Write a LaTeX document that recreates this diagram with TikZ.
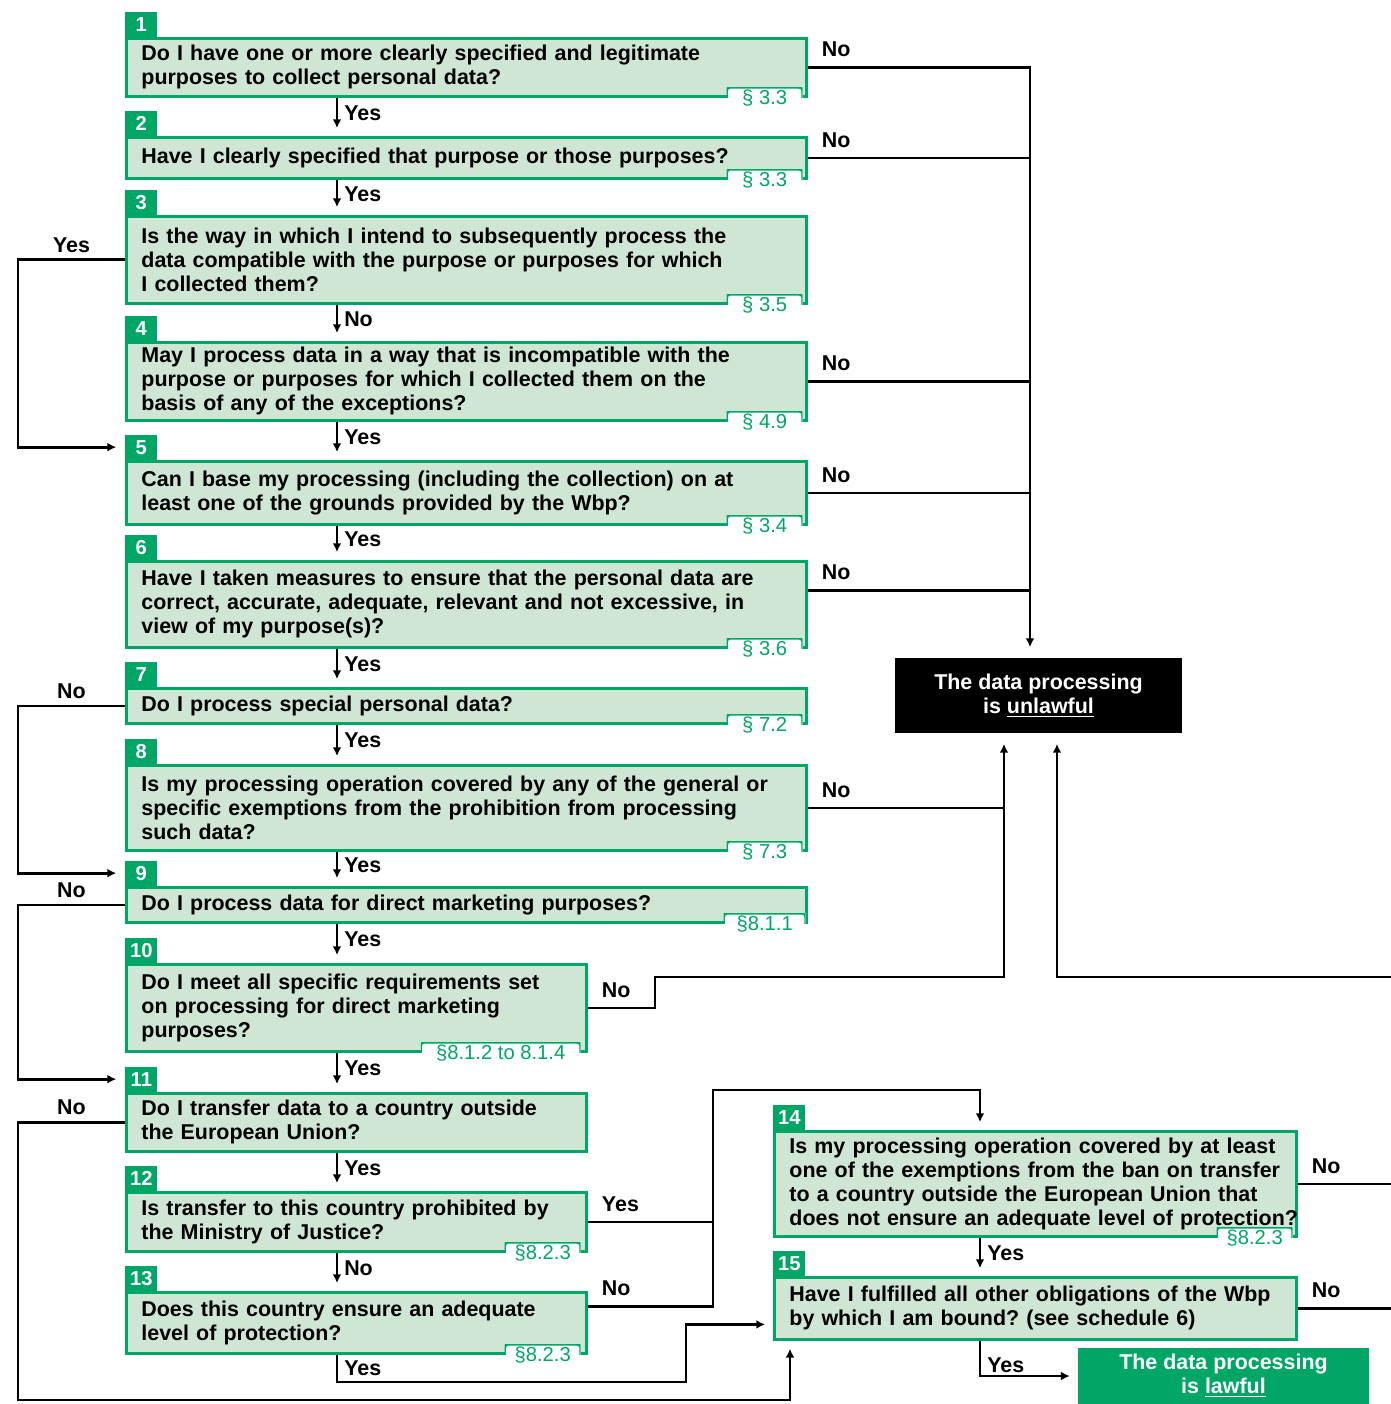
\documentclass[tikz,border=0pt]{standalone}
\usepackage{fontspec}
\setmainfont{Liberation Sans}
\usetikzlibrary{arrows.meta,positioning}

\definecolor{wbpgreen}{RGB}{0,166,101}
\definecolor{wbpfill}{RGB}{208,230,213}

\newcommand{\qfont}{\fontsize{12.2}{13.66}\selectfont\bfseries\frenchspacing}
\newcommand{\afont}{\fontsize{12.2}{13.66}\selectfont\bfseries}
\newcommand{\secfont}{\fontsize{11.5}{12}\selectfont}

\tikzset{
  question/.style={draw=wbpgreen, fill=wbpfill, line width=1.6pt, anchor=north west,
    align=left, inner xsep=0.3cm, inner ysep=0pt, text width=13cm, font=\qfont},
  numtab/.style={fill=wbpgreen, text=white, anchor=south west, inner sep=0pt,
    minimum width=0.64cm, minimum height=0.5cm, font=\fontsize{11.5}{12}\selectfont\bfseries},
  sectab/.style={fill=white, text=wbpgreen, inner sep=0pt, minimum width=1.52cm,
    minimum height=0.42cm, font=\secfont,
    path picture={\draw[wbpgreen, line width=1.4pt, rounded corners=2pt]
      (path picture bounding box.west) -- (path picture bounding box.north west)
      -- (path picture bounding box.north east) -- (path picture bounding box.east);}},
  verdict/.style={text=white, align=center, inner sep=0pt, font=\afont},
  flow/.style={draw=black, line width=1.6pt},
  flowto/.style={->, shorten >=4.5pt},
  outlbl/.style={anchor=south west, xshift=0.14cm, yshift=0.06cm},
}

\begin{document}
\begin{tikzpicture}[x=0.02cm, y=-0.02cm, >={Latex[length=5pt,width=5pt]}]
\useasboundingbox (0,0) rectangle (1391,1404);

% questions
\begin{scope}[every node/.style={question}]
  \node[minimum height=1.16cm] (q1) at (125,37) {Do I have one or more clearly specified and legitimate\\purposes to collect personal data?};
  \node[minimum height=0.82cm] (q2) at (125,136) {Have I clearly specified that purpose or those purposes?};
  \node[minimum height=1.74cm] (q3) at (125,215) {Is the way in which I intend to subsequently process the\\data compatible with the purpose or purposes for which\\I collected them?};
  \node[minimum height=1.56cm] (q4) at (125,341) {May I process data in a way that is incompatible with the\\purpose or purposes for which I collected them on the\\basis of any of the exceptions?};
  \node[minimum height=1.26cm] (q5) at (125,460) {Can I base my processing (including the collection) on at\\least one of the grounds provided by the Wbp?};
  \node[minimum height=1.72cm] (q6) at (125,560) {Have I taken measures to ensure that the personal data are\\correct, accurate, adequate, relevant and not excessive, in\\view of my purpose(s)?};
  \node[minimum height=0.70cm] (q7) at (125,687) {Do I process special personal data?};
  \node[minimum height=1.70cm] (q8) at (125,764) {Is my processing operation covered by any of the general or\\specific exemptions from the prohibition from processing\\such data?};
  \node[minimum height=0.70cm] (q9) at (125,886) {Do I process data for direct marketing purposes?};
  \node[minimum height=1.74cm, text width=8.6cm] (q10) at (125,963) {Do I meet all specific requirements set\\on processing for direct marketing\\purposes?};
  \node[minimum height=1.16cm, text width=8.6cm] (q11) at (125,1092) {Do I transfer data to a country outside\\the European Union?};
  \node[minimum height=1.18cm, text width=8.6cm] (q12) at (125,1191) {Is transfer to this country prohibited by\\the Ministry of Justice?};
  \node[minimum height=1.22cm, text width=8.6cm] (q13) at (125,1291) {Does this country ensure an adequate\\level of protection?};
  \node[minimum height=2.10cm, text width=9.84cm] (q14) at (773,1130) {Is my processing operation covered by at least\\\mbox{one of the exemptions from the ban on transfer}\\to a country outside the European Union that\\\mbox{does not ensure an adequate level of protection?}};
  \node[minimum height=1.24cm, text width=9.84cm] (q15) at (773,1276) {Have I fulfilled all other obligations of the Wbp\\by which I am bound? (see schedule 6)};
\end{scope}

% numbers
\begin{scope}[every node/.style={numtab}]
  \node (n1) at (q1.north west) {1};
  \node (n2) at (q2.north west) {2};
  \node (n3) at (q3.north west) {3};
  \node (n4) at (q4.north west) {4};
  \node (n5) at (q5.north west) {5};
  \node (n6) at (q6.north west) {6};
  \node (n7) at (q7.north west) {7};
  \node (n8) at (q8.north west) {8};
  \node (n9) at (q9.north west) {9};
  \node (n10) at (q10.north west) {10};
  \node (n11) at (q11.north west) {11};
  \node (n12) at (q12.north west) {12};
  \node (n13) at (q13.north west) {13};
  \node (n14) at (q14.north west) {14};
  \node (n15) at (q15.north west) {15};
\end{scope}

% sections of the guide
\begin{scope}[every node/.style={sectab}]
  \node[xshift=-0.86cm] (s1) at (q1.south east) {\S\ 3.3};
  \node[xshift=-0.86cm] (s2) at (q2.south east) {\S\ 3.3};
  \node[xshift=-0.86cm] (s3) at (q3.south east) {\S\ 3.5};
  \node[xshift=-0.86cm] (s4) at (q4.south east) {\S\ 4.9};
  \node[xshift=-0.86cm] (s5) at (q5.south east) {\S\ 3.4};
  \node[xshift=-0.86cm] (s6) at (q6.south east) {\S\ 3.6};
  \node[xshift=-0.86cm] (s7) at (q7.south east) {\S\ 7.2};
  \node[xshift=-0.86cm] (s8) at (q8.south east) {\S\ 7.3};
  \node[xshift=-0.86cm, minimum width=1.64cm] (s9) at (q9.south east) {\S8.1.1};
  \node[xshift=-1.74cm, minimum width=3.2cm] (s10) at (q10.south east) {\S8.1.2 to 8.1.4};
  \node[xshift=-0.9cm] (s12) at (q12.south east) {\S8.2.3};
  \node[xshift=-0.9cm] (s13) at (q13.south east) {\S8.2.3};
  \node[xshift=-0.86cm] (s14) at (q14.south east) {\S8.2.3};
\end{scope}

% outcomes
\node[verdict, fill=black, minimum width=5.74cm, minimum height=1.5cm] (unlawful) at (1038.5,695.5) {The data processing\\is \underline{unlawful}};
\node[verdict, fill=wbpgreen, minimum width=5.82cm, minimum height=1.12cm] (lawful) at (1223.5,1376) {The data processing\\is \underline{lawful}};

% helper points for the lines
\coordinate (ax) at (337,0);
\coordinate (rx) at (1030,0);
\coordinate (lx) at (18,0);
\coordinate (ex) at (1391,0);
\coordinate (dn) at (980,1090);
\coordinate (up) at (713,1090);
\coordinate (sw) at (790,1400);
\coordinate (yb) at (686,1382);
\coordinate (kink) at (655,977);
\coordinate (ul) at (1004,977);
\coordinate (ur) at (1057,977);

\begin{scope}[every edge/.style={flow, flowto}, every node/.style={font=\afont}]
  % main column
  \path (q1.south -| ax) edge node[right, pos=0.4] {Yes} (q2.north -| ax);
  \path (q2.south -| ax) edge node[right, pos=0.4] {Yes} (q3.north -| ax);
  \path (q3.south -| ax) edge node[right, pos=0.4] {No} (q4.north -| ax);
  \path (q4.south -| ax) edge node[right, pos=0.4] {Yes} (q5.north -| ax);
  \path (q5.south -| ax) edge node[right, pos=0.4] {Yes} (q6.north -| ax);
  \path (q6.south -| ax) edge node[right, pos=0.4] {Yes} (q7.north -| ax);
  \path (q7.south -| ax) edge node[right, pos=0.4] {Yes} (q8.north -| ax);
  \path (q8.south -| ax) edge node[right, pos=0.4] {Yes} (q9.north -| ax);
  \path (q9.south -| ax) edge node[right, pos=0.4] {Yes} (q10.north -| ax);
  \path (q10.south -| ax) edge node[right, pos=0.4] {Yes} (q11.north -| ax);
  \path (q11.south -| ax) edge node[right, pos=0.4] {Yes} (q12.north -| ax);
  \path (q12.south -| ax) edge node[right, pos=0.4] {No} (q13.north -| ax);
  \path (q14.south -| dn) edge node[right, pos=0.4] {Yes} (q15.north -| dn);

  % to unlawful, from the right side
  \draw[flow, flowto, shorten >=6pt] (q1.east) node[outlbl] {No} -| (unlawful.north -| rx);
  \draw[flow] (q2.east) node[outlbl] {No} -- (q2.east -| rx);
  \draw[flow] (q4.east) node[outlbl] {No} -- (q4.east -| rx);
  \draw[flow] (q5.east) node[outlbl] {No} -- (q5.east -| rx);
  \draw[flow] ([yshift=0.28cm]q6.east) node[outlbl] {No} -- ([yshift=0.28cm]q6.east -| rx);
  \draw[flow] (q8.east) node[outlbl] {No} -- (q8.east -| ul);
  \draw[flow, flowto, shorten >=6pt] (q10.east) node[outlbl] {No} -| (kink) -- (ul) -- (unlawful.south -| ul);
  \draw[flow, flowto, shorten >=6pt] (ur -| ex) -- (ur) -- (unlawful.south -| ur);

  % loops on the left
  \draw[flow, flowto, shorten >=5pt] (q3.west) -- node[above] {Yes} (q3.west -| lx) |- (n5.west);
  \draw[flow, flowto, shorten >=5pt] (q7.west) -- node[above] {No} (q7.west -| lx) |- (n9.west);
  \draw[flow, flowto, shorten >=5pt] (q9.west) -- node[above] {No} (q9.west -| lx) |- (n11.west);
  \draw[flow, flowto] (q11.west) -- node[above] {No} (q11.west -| lx) |- (sw) -- (q15.south -| sw);

  % transfer outside the EU
  \draw[flow] (q12.east) node[outlbl] {Yes} -- (q12.east -| up);
  \draw[flow, flowto] ([yshift=0.33cm]q13.east) node[outlbl] {No} -| (up) -| (q14.north -| dn);
  \draw[flow, flowto] (q13.south -| ax) |- node[right, pos=0.25] {Yes} (yb) |- ([yshift=-0.32cm]q15.west);
  \draw[flow] (q14.east) node[outlbl] {No} -- (q14.east -| ex);
  \draw[flow] (q15.east) node[outlbl] {No} -- (q15.east -| ex);
  \draw[flow, flowto] (q15.south -| dn) |- node[right, pos=0.35] {Yes} (lawful.west);
\end{scope}
\end{tikzpicture}
\end{document}
